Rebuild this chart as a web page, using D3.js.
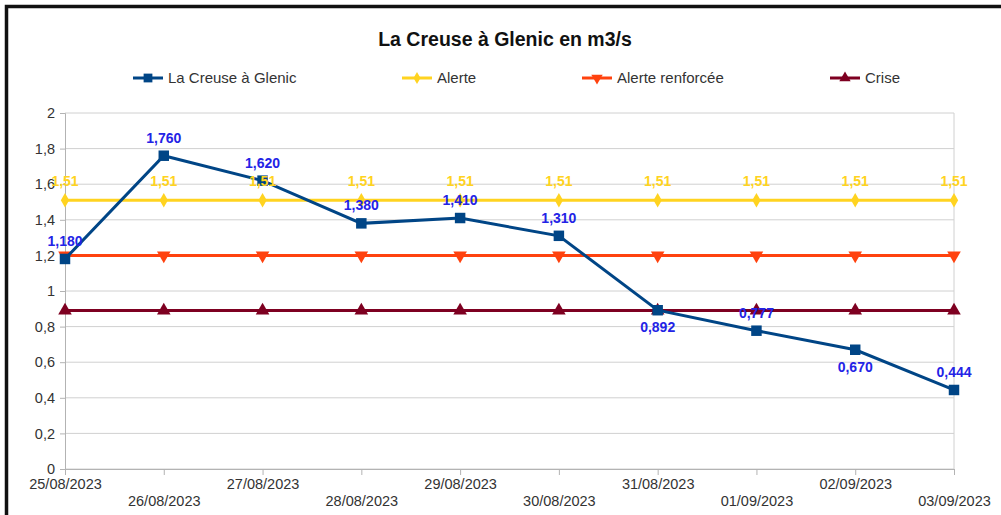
<!DOCTYPE html>
<html><head><meta charset="utf-8">
<script src="https://cdn.jsdelivr.net/npm/d3@7"></script>
<style>body{margin:0;background:#fff}svg{display:block;font-family:"Liberation Sans",Arial,sans-serif}</style>
</head><body><svg id="c" width="1001" height="515"></svg>
<script>
const dates = ["25/08/2023","26/08/2023","27/08/2023","28/08/2023","29/08/2023","30/08/2023","31/08/2023","01/09/2023","02/09/2023","03/09/2023"];
const debit = [1.180,1.760,1.620,1.380,1.410,1.310,0.892,0.777,0.670,0.444];
const alerte = [1.51,1.51,1.51,1.51,1.51,1.51,1.51,1.51,1.51,1.51];
const alerteRenforcee = [1.2,1.2,1.2,1.2,1.2,1.2,1.2,1.2,1.2,1.2];
const crise = [0.89,0.89,0.89,0.89,0.89,0.89,0.89,0.89,0.89,0.89];
const yTicks = [0,0.2,0.4,0.6,0.8,1,1.2,1.4,1.6,1.8,2];
const debitLabelBelow = [false,false,false,false,false,false,true,false,true,false];

const svg = d3.select("#c");
const fr = d3.formatLocale({decimal:",",thousands:" ",grouping:[3],currency:["","€"]});
const f3 = fr.format(".3f"), f2 = fr.format(".2f"), fy = v => fr.format("")(+v.toFixed(1));

// frame
svg.append("path").attr("d","M6.5,515 L6.5,6.5 L1001,6.5").attr("fill","none").attr("stroke","#111").attr("stroke-width",3.5);

const x = d3.scalePoint().domain(d3.range(dates.length)).range([65,954]);
const y = d3.scaleLinear().domain([0,2]).range([469,113]);

// gridlines
svg.append("g").selectAll("line").data(yTicks).join("line")
  .attr("x1",65).attr("x2",954).attr("y1",d=>y(d)).attr("y2",d=>y(d))
  .attr("stroke","#d0d0d0").attr("stroke-width",1);
svg.append("line").attr("x1",954).attr("x2",954).attr("y1",y(2)).attr("y2",y(0)).attr("stroke","#d0d0d0");

// axes
const yAxis = svg.append("g").attr("transform","translate(65,0)")
  .call(d3.axisLeft(y).tickValues(yTicks).tickSize(5).tickPadding(5).tickFormat(fy));
yAxis.select(".domain").attr("stroke","#b3b3b3");
yAxis.selectAll(".tick line").attr("stroke","#b3b3b3");
yAxis.selectAll("text").attr("font-size",14.5).attr("fill","#333").attr("font-family","Liberation Sans, Arial, sans-serif");

const xAxis = svg.append("g").attr("transform","translate(0,469)")
  .call(d3.axisBottom(x).tickSize(6).tickFormat(i=>dates[i]));
xAxis.select(".domain").attr("stroke","#b3b3b3");
xAxis.selectAll(".tick line").attr("stroke","#b3b3b3");
xAxis.selectAll("text").attr("font-size",14.5).attr("fill","#333").attr("font-family","Liberation Sans, Arial, sans-serif")
  .attr("y",(d,i)=> i%2===0 ? 10 : 27);

const series = [
  {name:"La Creuse à Glenic", vals:debit, color:"#004586", sym:d3.symbolSquare, size:110, rot:0},
  {name:"Alerte", vals:alerte, color:"#ffd320", sym:d3.symbolDiamond, size:60, rot:0},
  {name:"Alerte renforcée", vals:alerteRenforcee, color:"#ff420e", sym:d3.symbolTriangle, size:80, rot:180},
  {name:"Crise", vals:crise, color:"#7e0021", sym:d3.symbolTriangle, size:80, rot:0}
];
const line = d3.line().x((d,i)=>x(i)).y(d=>y(d));
const drawOrder = [1,2,3,0];
drawOrder.forEach(k=>{
  const s = series[k];
  const g = svg.append("g");
  g.append("path").attr("d",line(s.vals)).attr("fill","none").attr("stroke",s.color).attr("stroke-width",3);
  g.selectAll("path.m").data(s.vals).join("path").attr("class","m")
    .attr("d",d3.symbol(s.sym,s.size))
    .attr("transform",(d,i)=>`translate(${x(i)},${y(d)}) rotate(${s.rot})`)
    .attr("fill",s.color);
});

// data labels
svg.append("g").selectAll("text").data(alerte).join("text")
  .attr("x",(d,i)=>x(i)).attr("y",d=>y(d)-14).attr("text-anchor","middle")
  .attr("font-size",14).attr("font-weight","bold").attr("fill","#ffd320").text(d=>f2(d));
svg.append("g").selectAll("text").data(debit).join("text")
  .attr("x",(d,i)=>x(i)).attr("y",(d,i)=>debitLabelBelow[i] ? y(d)+22 : y(d)-13).attr("text-anchor","middle")
  .attr("font-size",14).attr("font-weight","bold").attr("fill","#2323e6").text(d=>f3(d));

// title
svg.append("text").attr("x",505).attr("y",46).attr("text-anchor","middle")
  .attr("font-size",19.5).attr("font-weight","bold").attr("fill","#111").text("La Creuse à Glenic en m3/s");

// legend
const legX = [133,402,582,830];
series.forEach((s,k)=>{
  const g = svg.append("g").attr("transform",`translate(${legX[k]},78)`);
  g.append("line").attr("x1",0).attr("x2",30).attr("stroke",s.color).attr("stroke-width",3);
  g.append("path").attr("d",d3.symbol(s.sym,s.size*0.7)).attr("transform",`translate(15,0) rotate(${s.rot})`).attr("fill",s.color);
  g.append("text").attr("x",35).attr("y",5).attr("font-size",15).attr("fill","#333").text(s.name);
});
</script></body></html>
